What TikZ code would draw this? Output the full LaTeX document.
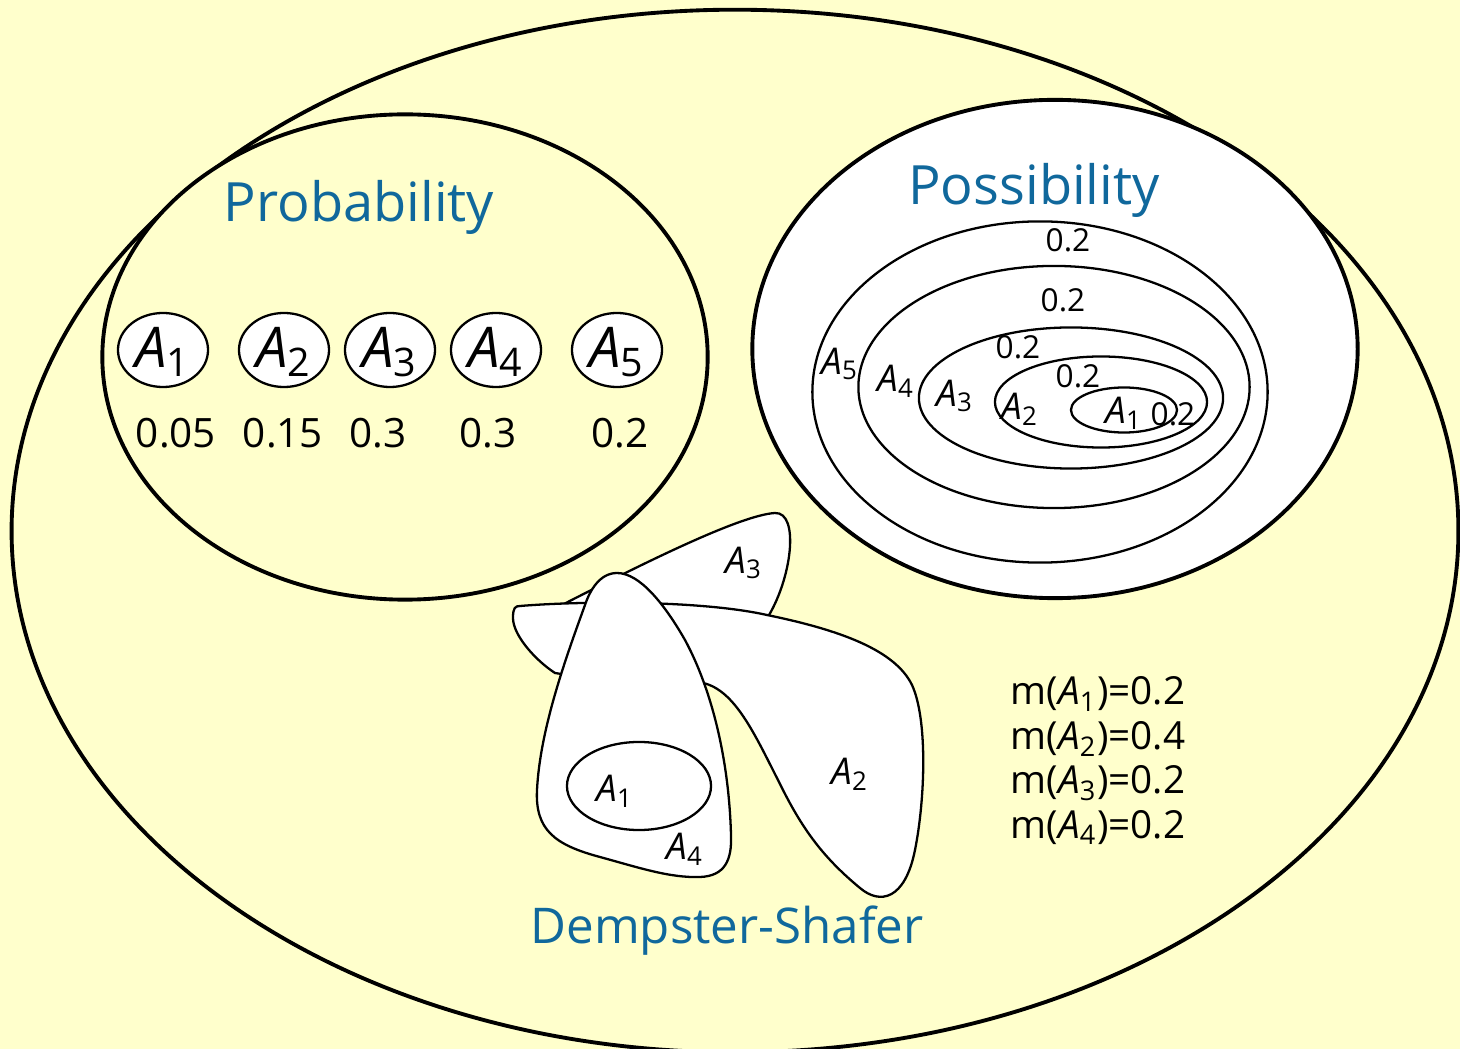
\documentclass[tikz,border=0pt]{standalone}
\usepackage{fontspec}
\setmainfont{Open Sans}
\usetikzlibrary{shapes.geometric}
\definecolor{bg}{RGB}{255,255,204}
\definecolor{ttl}{RGB}{16,104,156}
\newcommand\setA[1]{\textit{A}\textsubscript{#1}}
\tikzset{
  heavy/.style={draw=black, line width=1.1pt},
  lite/.style={draw=black, line width=0.65pt},
  oval/.style={ellipse, inner sep=0pt},
  title/.style={text=ttl, font=\fontsize{15.4}{18}\selectfont, anchor=base},
  bigA/.style={font=\fontsize{16}{18}\selectfont},
  prob/.style={font=\fontsize{11.5}{13}\selectfont, anchor=base},
  posnum/.style={font=\fontsize{9}{10}\selectfont},
  posA/.style={font=\fontsize{10.5}{12}\selectfont},
  dsA/.style={font=\fontsize{10.5}{12}\selectfont},
  mass/.style={font=\fontsize{11}{13}\selectfont, anchor=base west, inner sep=0pt},
  ds/.style={lite, fill=white}
}
\begin{document}
\begin{tikzpicture}[x=0.01cm,y=-0.01cm]
\useasboundingbox (0,0) rectangle (1460,1049);
\fill[bg] (0,0) rectangle (1460,1049);
% universe
\node[oval, heavy, minimum width=14.46cm, minimum height=10.42cm] (univ) at (735,531) {};
% probability
\node[oval, heavy, fill=bg, minimum width=6.05cm, minimum height=4.85cm] (probE) at (405,357) {};
\node[title] (probT) at (359,222) {Probability};
\foreach \i/\x in {1/163, 2/284, 3/390, 4/496, 5/617}{
  \node[oval, lite, fill=white, minimum width=0.9cm, minimum height=0.74cm] (p\i) at (\x,350) {};
  \node[bigA] (pA\i) at (\x,352) {\setA{\i}};
}
\node[prob] (v1) at (176,448) {0.05};
\node[prob] (v2) at (283,448) {0.15};
\node[prob] (v3) at (378,448) {0.3};
\node[prob] (v4) at (488,448) {0.3};
\node[prob] (v5) at (620,448) {0.2};
% possibility
\node[oval, heavy, fill=white, minimum width=6.05cm, minimum height=4.98cm] (possE) at (1055,349) {};
\node[title] (possT) at (1034,205) {Possibility};
\node[oval, lite, minimum width=4.55cm, minimum height=3.41cm] (e5) at (1040,392) {};
\node[oval, lite, minimum width=3.91cm, minimum height=2.42cm] (e4) at (1054,387) {};
\node[oval, lite, minimum width=3.04cm, minimum height=1.41cm] (e3) at (1071,398) {};
\node[oval, lite, minimum width=2.12cm, minimum height=0.91cm] (e2) at (1101,402) {};
\node[oval, lite, minimum width=1.06cm, minimum height=0.45cm] (e1) at (1124,410) {};
\node[posnum] (n5) at (1068,240) {0.2};
\node[posnum] (n4) at (1063,300) {0.2};
\node[posnum] (n3) at (1018,347) {0.2};
\node[posnum] (n2) at (1078,376) {0.2};
\node[posnum] (n1) at (1173,414) {0.2};
\node[posA] (a5) at (840,364) {\setA{5}};
\node[posA] (a4) at (896,381) {\setA{4}};
\node[posA] (a3) at (955,396) {\setA{3}};
\node[posA] (a2) at (1020,409) {\setA{2}};
\node[posA] (a1) at (1124,413) {\setA{1}};
% Dempster-Shafer
\draw[ds] (560,606) .. controls (640,565) and (740,515) .. (775,513)
  .. controls (800,512) and (792,580) .. (766,620) -- (680,625) -- cycle;
\draw[ds] (520,606) .. controls (580,601) and (700,600) .. (767,615)
  .. controls (840,630) and (895,650) .. (912,685)
  .. controls (928,720) and (925,800) .. (915,850)
  .. controls (905,900) and (880,905) .. (860,888)
  .. controls (820,855) and (800,825) .. (778,780)
  .. controls (755,735) and (735,690) .. (703,683)
  -- (600,680) -- (555,673)
  .. controls (535,660) and (513,635) .. (513,618)
  .. controls (513,608) and (515,606) .. (520,606) -- cycle;
\draw[ds] (617,573) .. controls (600,573) and (590,590) .. (585,605)
  .. controls (565,660) and (540,730) .. (537,790)
  .. controls (535,830) and (555,845) .. (600,857)
  .. controls (640,868) and (670,878) .. (700,877)
  .. controls (725,876) and (732,860) .. (731,835)
  .. controls (729,760) and (712,690) .. (685,640)
  .. controls (665,605) and (640,573) .. (617,573) -- cycle;
\node[oval, lite, fill=white, minimum width=1.44cm, minimum height=0.88cm] (d1) at (639,786) {};
\node[dsA] (dA3) at (744,563) {\setA{3}};
\node[dsA] (dA2) at (850,774) {\setA{2}};
\node[dsA] (dA1) at (615,791) {\setA{1}};
\node[dsA] (dA4) at (685,849) {\setA{4}};
\node[title, font=\fontsize{14}{16}\selectfont] (dsT) at (727,943) {Dempster-Shafer};
\node[mass] (m1) at (1010,705) {m(\setA{1})=0.2};
\node[mass] (m2) at (1010,750) {m(\setA{2})=0.4};
\node[mass] (m3) at (1010,794) {m(\setA{3})=0.2};
\node[mass] (m4) at (1010,838) {m(\setA{4})=0.2};
\end{tikzpicture}
\end{document}
